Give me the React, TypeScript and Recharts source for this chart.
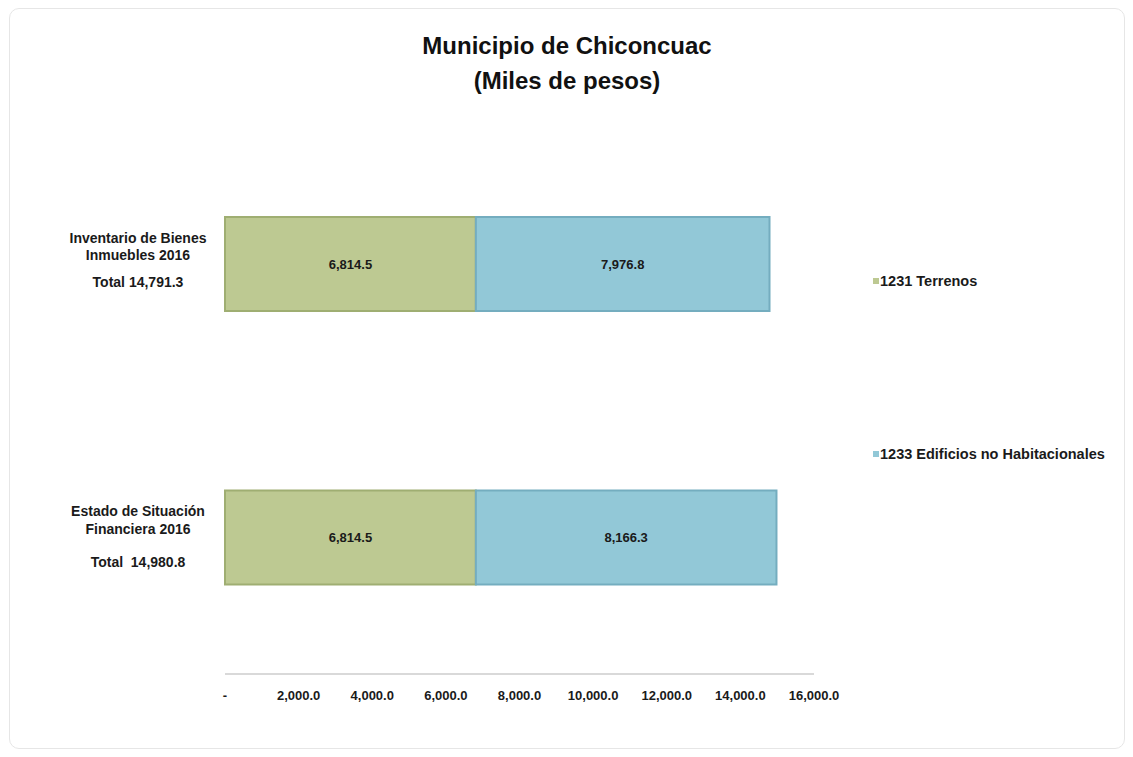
import React from "react";
import { BarChart, Bar, XAxis, YAxis, LabelList } from "recharts";

const categories = ["Inventario de Bienes Inmuebles 2016", "Estado de Situación Financiera 2016"];
const categoryLines = [
  ["Inventario de Bienes", "Inmuebles 2016"],
  ["Estado de Situación", "Financiera 2016"],
];
const totals = ["Total 14,791.3", "Total  14,980.8"];
const terrenos = [6814.5, 6814.5];
const edificios = [7976.8, 8166.3];
const xTicks = [0, 2000, 4000, 6000, 8000, 10000, 12000, 14000, 16000];

const seriesNames = ["1231 Terrenos", "1233 Edificios no Habitacionales"];
const GREEN = "#bdc992";
const BLUE = "#92c8d7";

const data = categories.map((name, i) => ({
  name,
  terrenos: terrenos[i],
  edificios: edificios[i],
}));

const FONT = "'Liberation Sans', Arial, sans-serif";

const fmt = (v: number) =>
  v === 0 ? "-" : v.toLocaleString("en-US", { minimumFractionDigits: 1, maximumFractionDigits: 1 });

function CategoryTick(props: any) {
  const { x, y, index } = props;
  const lines = categoryLines[index] ?? [];
  const totalOffset = [18, 25][index] ?? 20;
  const cx = x - 87;
  return (
    <g>
      {lines.map((l, i) => (
        <text
          key={i}
          x={cx}
          y={y - 26 + i * 17.5}
          dy={5}
          textAnchor="middle"
          fontFamily={FONT}
          fontWeight="bold"
          fontSize={14}
          fill="#1a1a1a"
        >
          {l}
        </text>
      ))}
      <text
        x={cx}
        y={y + totalOffset}
        dy={5}
        textAnchor="middle"
        fontFamily={FONT}
        fontWeight="bold"
        fontSize={14}
        fill="#1a1a1a"
        style={{ whiteSpace: "pre" }}
      >
        {totals[index]}
      </text>
    </g>
  );
}

// legend drawn beside the plot, as in the original
function SideLegend() {
  const colors = [GREEN, BLUE];
  return (
    <div
      style={{
        position: "absolute",
        left: 863,
        top: 264,
        fontFamily: FONT,
        fontWeight: "bold",
        fontSize: 14.5,
        color: "#1a1a1a",
      }}
    >
      {seriesNames.map((n, i) => (
        <div key={n} style={{ display: "flex", alignItems: "center", height: 16, marginBottom: i === 0 ? 157 : 0 }}>
          <span style={{ display: "inline-block", width: 6, height: 6, background: colors[i], marginRight: 1 }} />
          <span>{n}</span>
        </div>
      ))}
    </div>
  );
}

export default function App() {
  return (
    <div
      style={{
        position: "relative",
        width: 1116,
        height: 741,
        border: "1px solid #e6e6e6",
        borderRadius: 10,
        marginLeft: 1,
        boxSizing: "border-box",
        background: "#fff",
      }}
    >
      <div
        style={{
          position: "absolute",
          top: 19,
          left: 0,
          width: "100%",
          textAlign: "center",
          fontFamily: FONT,
          fontWeight: "bold",
          fontSize: 24,
          lineHeight: "35px",
          color: "#111",
        }}
      >
        <div>Municipio de Chiconcuac</div>
        <div>(Miles de pesos)</div>
      </div>
      <BarChart
        width={1114}
        height={739}
        data={data}
        layout="vertical"
        margin={{ top: 118, right: 310, bottom: 44, left: 0 }}
        barCategoryGap={90}
      >
        <XAxis
          type="number"
          domain={[0, 16000]}
          ticks={xTicks}
          tickFormatter={fmt}
          axisLine={{ stroke: "#d9d9d9", strokeWidth: 2 }}
          tickLine={false}
          tickSize={0}
          tickMargin={17}
          height={30}
          tick={{ fontFamily: FONT, fontWeight: "bold", fontSize: 13, fill: "#1a1a1a" }}
        />
        <YAxis
          type="category"
          dataKey="name"
          width={215}
          axisLine={false}
          tickLine={false}
          tickSize={0}
          tickMargin={0}
          tick={<CategoryTick />}
        />
        <Bar dataKey="terrenos" name={seriesNames[0]} stackId="a" fill={GREEN} stroke="#9fae72" strokeWidth={2} barSize={94} isAnimationActive={false}>
          <LabelList dataKey="terrenos" position="center" formatter={(v: any) => fmt(Number(v))} style={{ fontFamily: FONT, fontWeight: "bold", fontSize: 13, fill: "#1a1a1a" }} />
        </Bar>
        <Bar dataKey="edificios" name={seriesNames[1]} stackId="a" fill={BLUE} stroke="#74adbf" strokeWidth={2} barSize={94} isAnimationActive={false}>
          <LabelList dataKey="edificios" position="center" formatter={(v: any) => fmt(Number(v))} style={{ fontFamily: FONT, fontWeight: "bold", fontSize: 13, fill: "#1a1a1a" }} />
        </Bar>
      </BarChart>
      <SideLegend />
    </div>
  );
}
